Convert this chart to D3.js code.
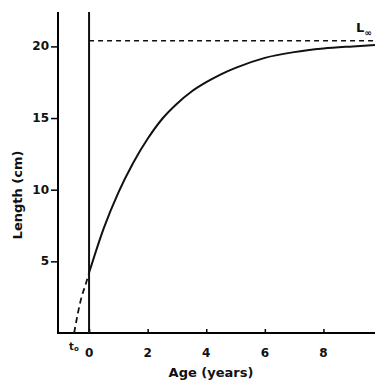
<!DOCTYPE html>
<html>
<head>
<meta charset="utf-8">
<script src="https://cdn.jsdelivr.net/npm/d3@7"></script>
<style>
  body { margin: 0; background: #fff; }
  text { font-family: "DejaVu Sans", sans-serif; font-weight: bold; fill: #111; }
</style>
</head>
<body>
<svg id="chart" width="375" height="383"></svg>
<script>
// growth curve
const ages = [0, 0.5, 1, 1.5, 2, 2.5, 3, 3.5, 4, 4.5, 5, 6, 7, 8, 9, 9.76];
const lengths = [4.2, 7.3, 9.8, 11.85, 13.55, 14.95, 16.0, 16.85, 17.5, 18.05, 18.5, 19.2, 19.6, 19.85, 20.0, 20.1];
// dashed back-extension to t0
const backAges = [-0.51, -0.27, -0.1, 0];
const backLengths = [0, 2.4, 3.5, 4.2];
const lInf = 20.4;
const t0 = -0.51;
const xTicks = [0, 2, 4, 6, 8];
const yTicks = [5, 10, 15, 20];

var svg = d3.select("#chart");

var x = d3.scaleLinear().domain([-1.06, 9.76]).range([58, 375]);
var y = d3.scaleLinear().domain([0, 22.4]).range([333, 12]);

// axes
svg.append("g")
  .attr("transform", "translate(0,333)")
  .call(d3.axisBottom(x).tickValues(xTicks).tickSize(-4).tickFormat(""))
  .call(g => g.select(".domain").attr("d", "M58,0H375").attr("stroke-width", 2))
  .call(g => g.selectAll(".tick line").attr("stroke-width", 1.5));

svg.append("g")
  .attr("transform", "translate(58,0)")
  .call(d3.axisLeft(y).tickValues(yTicks).tickSize(7).tickFormat(""))
  .call(g => g.select(".domain").attr("d", "M0,12V334").attr("stroke-width", 2))
  .call(g => g.selectAll(".tick line").attr("stroke-width", 1.5));

// x tick labels
svg.selectAll(".xl")
  .data(xTicks)
  .enter().append("text")
  .attr("x", d => x(d))
  .attr("y", 357)
  .attr("text-anchor", "middle")
  .attr("font-size", 12)
  .text(d => d);

// y tick labels
svg.selectAll(".yl")
  .data(yTicks)
  .enter().append("text")
  .attr("x", 49)
  .attr("y", d => y(d) + 4)
  .attr("text-anchor", "end")
  .attr("font-size", 12)
  .text(d => d);

// vertical line at age 0
svg.append("line")
  .attr("x1", x(0)).attr("x2", x(0))
  .attr("y1", y(22.4)).attr("y2", y(0))
  .attr("stroke", "#111").attr("stroke-width", 2);

// L infinity
svg.append("line")
  .attr("x1", x(0)).attr("x2", 375)
  .attr("y1", y(lInf)).attr("y2", y(lInf))
  .attr("stroke", "#111").attr("stroke-width", 1.5)
  .attr("stroke-dasharray", "5,4");

var line = d3.line()
  .x((d, i) => x(d))
  .curve(d3.curveMonotoneX);

svg.append("path")
  .attr("d", line.y((d, i) => y(lengths[i]))(ages))
  .attr("fill", "none").attr("stroke", "#111").attr("stroke-width", 2);

svg.append("path")
  .attr("d", line.y((d, i) => y(backLengths[i]))(backAges))
  .attr("fill", "none").attr("stroke", "#111").attr("stroke-width", 1.8)
  .attr("stroke-dasharray", "6,4");

// labels
var lt = svg.append("text").attr("x", 356).attr("y", 32).attr("font-size", 13);
lt.append("tspan").text("L");
lt.append("tspan").attr("dy", 4).attr("font-size", 9).text("\u221e");

var tt = svg.append("text").attr("x", x(t0) - 5).attr("y", 350).attr("font-size", 10);
tt.append("tspan").text("t");
tt.append("tspan").attr("dy", 1).attr("font-size", 7).text("o");

svg.append("text")
  .attr("x", 211).attr("y", 377)
  .attr("text-anchor", "middle")
  .attr("font-size", 13)
  .text("Age (years)");

svg.append("text")
  .attr("transform", "translate(22,195) rotate(-90)")
  .attr("text-anchor", "middle")
  .attr("font-size", 13)
  .text("Length (cm)");
</script>
</body>
</html>
